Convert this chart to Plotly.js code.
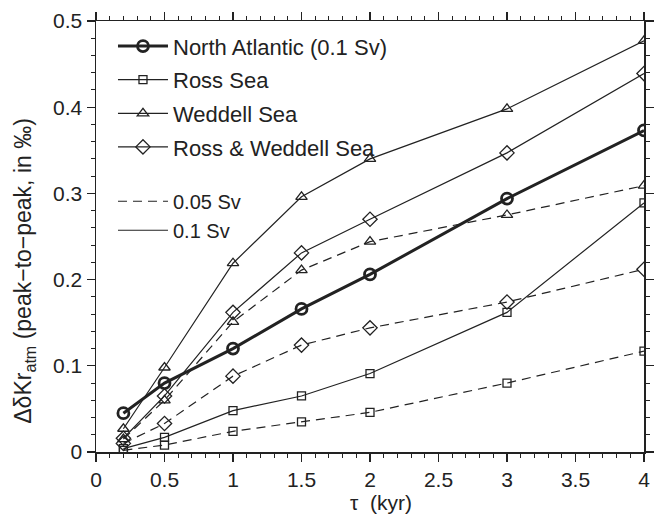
<!DOCTYPE html>
<html>
<head>
<meta charset="utf-8">
<script src="https://cdn.plot.ly/plotly-3.0.1.min.js"></script>
<style>html,body{margin:0;padding:0;background:#fff;}#chart{width:664px;height:517px;}</style>
</head>
<body>
<div id="chart"></div>
<script>
const tau = [0.2, 0.5, 1, 1.5, 2, 3, 4];
const northAtlantic = [0.045, 0.080, 0.120, 0.166, 0.206, 0.294, 0.373];
const ross01 = [0.004, 0.017, 0.048, 0.065, 0.091, 0.162, 0.289];
const ross005 = [0.002, 0.008, 0.024, 0.035, 0.046, 0.080, 0.117];
const weddell01 = [0.027, 0.098, 0.219, 0.296, 0.340, 0.398, 0.477];
const weddell005 = [0.015, 0.060, 0.151, 0.211, 0.244, 0.275, 0.309];
const rossWeddell01 = [0.016, 0.065, 0.162, 0.231, 0.270, 0.347, 0.439];
const rossWeddell005 = [0.010, 0.033, 0.088, 0.124, 0.144, 0.174, 0.212];

const legendRegions = ['North Atlantic (0.1 Sv)', 'Ross Sea', 'Weddell Sea', 'Ross & Weddell Sea'];
const legendFlux = ['0.05 Sv', '0.1 Sv'];

const C = '#222222';
const DASH = '9px,6px';
const FONT = 'Liberation Sans, Arial, sans-serif';

function tr(y, sym, size, width, dash, mwidth) {
  return {
    x: tau, y: y, type: 'scatter', mode: 'lines+markers', showlegend: false,
    line: {color: C, width: width, dash: dash},
    marker: {symbol: sym, size: size, color: C, line: {color: C, width: mwidth}},
    hoverinfo: 'skip'
  };
}

const data = [
  tr(ross005, 'square-open', 8, 1.2, DASH, 1.3),
  tr(weddell005, 'triangle-up-open', 10, 1.2, DASH, 1.3),
  tr(rossWeddell005, 'diamond-open', 11, 1.2, DASH, 1.3),
  tr(ross01, 'square-open', 8, 1.2, 'solid', 1.3),
  tr(weddell01, 'triangle-up-open', 10, 1.2, 'solid', 1.3),
  tr(rossWeddell01, 'diamond-open', 11, 1.2, 'solid', 1.3),
  tr(northAtlantic, 'circle-open', 11, 3, 'solid', 2.8)
];

// legend-only entries
const legSyms = ['circle-open', 'square-open', 'triangle-up-open', 'diamond-open'];
const legSizes = [11, 8, 10, 11];
const legW = [3, 1.2, 1.2, 1.2];
legendRegions.forEach((name, i) => {
  data.push({x: [null], y: [null], type: 'scatter', mode: 'lines+markers', name: name,
    legend: 'legend', legendgroup: 'g' + i, showlegend: true,
    line: {color: C, width: legW[i]},
    marker: {symbol: legSyms[i], size: legSizes[i], color: C, line: {color: C, width: i === 0 ? 2.8 : 1.3}}});
});
legendFlux.forEach((name, i) => {
  data.push({x: [null], y: [null], type: 'scatter', mode: 'lines', name: name,
    legend: 'legend2', showlegend: true,
    line: {color: C, width: 1.2, dash: i === 0 ? DASH : 'solid'}});
});

const axisCommon = {
  showgrid: false, zeroline: false, showline: true, linecolor: C, linewidth: 1.5,
  mirror: 'ticks', ticks: 'outside', ticklen: 8, tickwidth: 1.2, tickcolor: C,
  tickfont: {family: FONT, size: 21, color: C}
};

const layout = {
  width: 664, height: 517,
  margin: {l: 96, r: 20, t: 21, b: 65},
  paper_bgcolor: '#fff', plot_bgcolor: '#fff',
  font: {family: FONT, color: C},
  xaxis: Object.assign({}, axisCommon, {
    range: [0, 4], dtick: 0.5, tick0: 0,
    minor: {dtick: 0.1, ticks: 'outside', ticklen: 4, tickcolor: C, tickwidth: 1}
  }),
  yaxis: Object.assign({}, axisCommon, {
    range: [0, 0.5], dtick: 0.1, tick0: 0,
    minor: {dtick: 0.02, ticks: 'outside', ticklen: 4, tickcolor: C, tickwidth: 1}
  }),
  showlegend: true,
  legend: {
    x: 0.031, y: 0.99, xanchor: 'left', yanchor: 'top',
    bgcolor: 'rgba(0,0,0,0)', borderwidth: 0,
    traceorder: 'grouped', tracegroupgap: 2,
    font: {size: 22, color: C}, itemwidth: 50
  },
  legend2: {
    x: 0.031, y: 0.627, xanchor: 'left', yanchor: 'top',
    bgcolor: 'rgba(0,0,0,0)', borderwidth: 0,
    font: {size: 20, color: C}, itemwidth: 50
  },
  annotations: [{
    xref: 'paper', yref: 'paper', x: -0.13, y: 0.42, xanchor: 'center', yanchor: 'middle',
    textangle: -90, showarrow: false,
    text: 'ΔδKr<sub>atm</sub> (peak−to−peak, in ‰)',
    font: {family: FONT, size: 23, color: C}
  }, {
    xref: 'paper', yref: 'paper', x: 0.52, y: -0.117, xanchor: 'center', yanchor: 'middle',
    showarrow: false, text: 'τ  (kyr)',
    font: {family: FONT, size: 21, color: C}
  }]
};

Plotly.newPlot('chart', data, layout, {staticPlot: true});
</script>
</body>
</html>
